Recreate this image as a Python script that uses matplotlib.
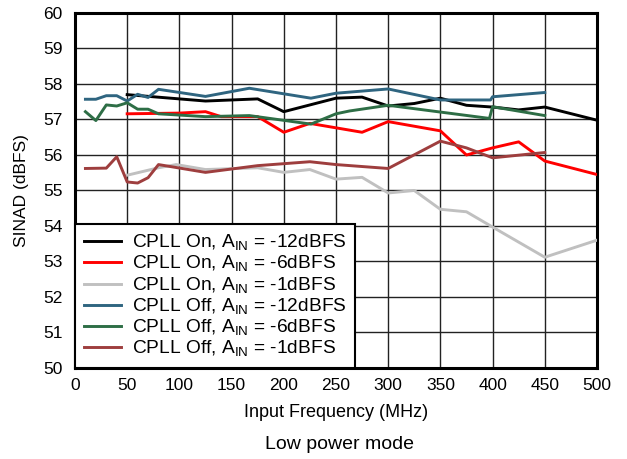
import matplotlib
matplotlib.use("Agg")
import matplotlib.pyplot as plt

plt.rcParams["font.family"] = ["Liberation Sans", "DejaVu Sans"]

# CPLL On, AIN = -12dBFS
on12_f = [50, 125, 175, 200, 250, 275, 300, 325, 350, 375, 400, 425, 450, 500]
on12_v = [57.70, 57.52, 57.58, 57.22, 57.60, 57.63, 57.38, 57.45, 57.60, 57.40, 57.35, 57.27, 57.35, 56.98]

# CPLL On, AIN = -6dBFS
on6_f = [50, 100, 125, 140, 175, 200, 225, 275, 300, 350, 375, 400, 425, 450, 500]
on6_v = [57.16, 57.18, 57.22, 57.08, 57.08, 56.64, 56.89, 56.64, 56.94, 56.68, 56.00, 56.20, 56.37, 55.83, 55.45]

# CPLL On, AIN = -1dBFS
on1_f = [50, 80, 97, 125, 175, 200, 225, 250, 275, 300, 325, 350, 375, 400, 450, 500]
on1_v = [55.43, 55.64, 55.73, 55.59, 55.64, 55.51, 55.59, 55.32, 55.37, 54.93, 55.00, 54.47, 54.40, 53.97, 53.12, 53.60]

# CPLL Off, AIN = -12dBFS
off12_f = [10, 20, 30, 40, 50, 60, 70, 80, 125, 167, 226, 250, 300, 350, 398, 400, 450]
off12_v = [57.57, 57.57, 57.67, 57.67, 57.52, 57.71, 57.62, 57.85, 57.65, 57.88, 57.60, 57.74, 57.86, 57.55, 57.55, 57.64, 57.76]

# CPLL Off, AIN = -6dBFS
off6_f = [10, 20, 30, 40, 50, 60, 70, 80, 125, 167, 226, 250, 263, 300, 397, 400, 450]
off6_v = [57.22, 56.97, 57.41, 57.38, 57.47, 57.29, 57.29, 57.16, 57.08, 57.11, 56.87, 57.16, 57.24, 57.40, 57.03, 57.36, 57.11]

# CPLL Off, AIN = -1dBFS
off1_f = [10, 30, 40, 50, 60, 70, 80, 125, 175, 225, 250, 300, 350, 375, 400, 450]
off1_v = [55.62, 55.63, 55.95, 55.24, 55.21, 55.36, 55.73, 55.51, 55.70, 55.81, 55.73, 55.62, 56.39, 56.20, 55.92, 56.07]

series = [
    (on12_f, on12_v, "CPLL On, A$_{\\mathregular{IN}}$ = -12dBFS", "#000000"),
    (on6_f, on6_v, "CPLL On, A$_{\\mathregular{IN}}$ = -6dBFS", "#ff0000"),
    (on1_f, on1_v, "CPLL On, A$_{\\mathregular{IN}}$ = -1dBFS", "#c0c0c0"),
    (off12_f, off12_v, "CPLL Off, A$_{\\mathregular{IN}}$ = -12dBFS", "#2f6580"),
    (off6_f, off6_v, "CPLL Off, A$_{\\mathregular{IN}}$ = -6dBFS", "#2e6e46"),
    (off1_f, off1_v, "CPLL Off, A$_{\\mathregular{IN}}$ = -1dBFS", "#9e3e3e"),
]

fig = plt.figure(figsize=(6.27, 4.59), dpi=100)
ax = fig.add_axes([0.1196, 0.1983, 0.8325, 0.7734])

for f, v, label, color in series:
    ax.plot(f, v, color=color, linewidth=2.1, label=label, zorder=3)

ax.set_xlim(0, 500)
ax.set_ylim(50, 60)
ax.set_xticks(range(0, 501, 50))
ax.set_yticks(range(50, 61, 1))
ax.grid(True, color="#222222", linewidth=1.0)
ax.tick_params(length=0, labelsize=12.5)
ax.tick_params(axis="y", pad=9)
ax.tick_params(axis="x", pad=7)
for s in ax.spines.values():
    s.set_linewidth(2.2)

ax.set_xlabel("Input Frequency (MHz)", fontsize=13, labelpad=8)
ax.set_ylabel("SINAD (dBFS)", fontsize=12.5, labelpad=10)
fig.text(0.541, 0.032, "Low power mode", ha="center", va="center", fontsize=14)

leg = ax.legend(loc="lower left", fontsize=13.8, frameon=True, fancybox=False,
                borderaxespad=0.0, handlelength=1.95, labelspacing=0.05,
                handletextpad=0.55, borderpad=0.45)
leg.get_frame().set_edgecolor("black")
leg.get_frame().set_linewidth(1.5)
leg.get_frame().set_alpha(1.0)
leg.set_zorder(5)

fig.savefig("out.png", dpi=100)
